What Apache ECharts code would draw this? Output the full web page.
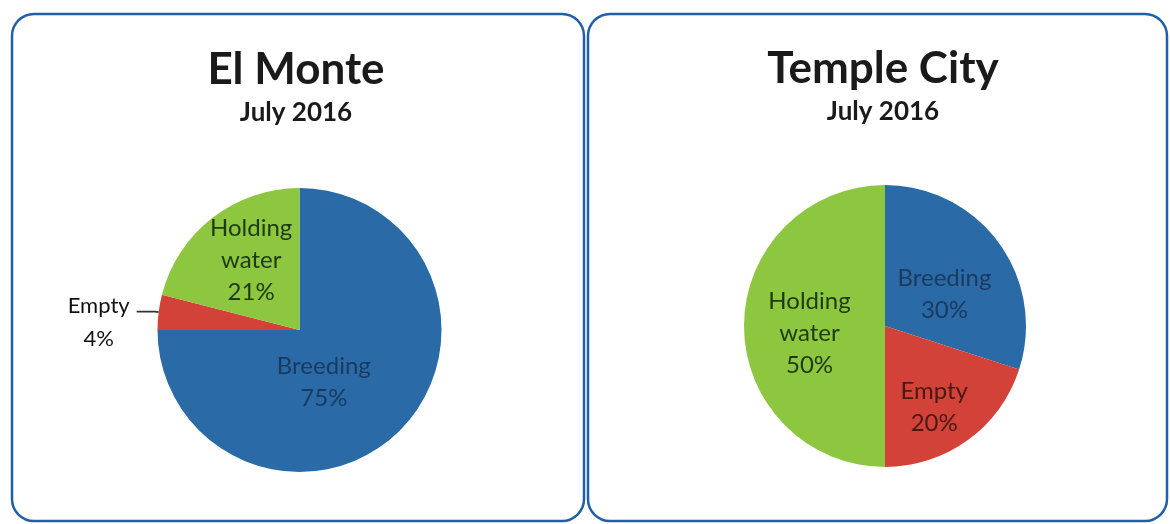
<!DOCTYPE html>
<html>
<head>
<meta charset="utf-8">
<script src="https://cdn.jsdelivr.net/npm/echarts@6/dist/echarts.min.js"></script>
<style>
  html, body { margin: 0; padding: 0; background: #fff; }
  #chart { width: 1170px; height: 524px; }
</style>
</head>
<body>
<div id="chart"></div>
<script>
// data
const categories = ['Breeding', 'Empty', 'Holding water'];
const elMonteValues = [75, 4, 21];
const templeCityValues = [30, 20, 50];
const panelTitles = ['El Monte', 'Temple City'];
const panelSubtitle = 'July 2016';

const sliceColors = ['#2a6aa6', '#d24238', '#8dc63f'];
const labelColors = ['#1b3a5e', '#4a1912', '#1f3a12'];
const FONT = 'Lato, "Open Sans", sans-serif';

// nudges so the inside labels sit where the original put them
const elMonteOffsets = [[-28, 0], [0, 0], [-3, -11]];
const templeOffsets = [[0, 11], [6, 22], [-2, 7]];

function insideLabel(i, offset) {
    return {
        show: true,
        position: 'inside',
        color: labelColors[i],
        fontFamily: FONT,
        fontSize: 24,
        lineHeight: 32,
        offset: offset,
        formatter: p => p.name.replace(' ', '\n') + '\n' + p.percent + '%'
    };
}

function buildData(values, offsets, outsideIdx) {
    return categories.map((name, i) => {
        const item = {
            name: name,
            value: values[i],
            itemStyle: { color: sliceColors[i] },
            label: insideLabel(i, offsets[i]),
            labelLine: { show: false }
        };
        if (i === outsideIdx) {
            item.label = {
                show: true,
                position: 'outside',
                padding: [22, 0, 0, 0],
                distanceToLabelLine: 5,
                formatter: p => '{a|' + p.name + '}\n{a|' + p.percent + '%}',
                rich: {
                    a: { width: 66, align: 'center', fontFamily: FONT, fontSize: 22, lineHeight: 33, color: '#111' }
                }
            };
            item.labelLine = { show: true, length: 4, length2: 18, lineStyle: { color: '#333', width: 1.8 } };
        }
        return item;
    });
}

const chart = echarts.init(document.getElementById('chart'));

const border = { stroke: '#2160a8', lineWidth: 2.5, fill: '#fff' };
const titleStyle = { fontFamily: FONT, fontWeight: 'bold', fontSize: 44, fill: '#1a1a1a', align: 'center', verticalAlign: 'middle' };
const subStyle = { fontFamily: FONT, fontWeight: 'bold', fontSize: 26, fill: '#1a1a1a', align: 'center', verticalAlign: 'middle' };

chart.setOption({
    animation: false,
    backgroundColor: '#fff',
    graphic: [
        { type: 'rect', z: -10, shape: { x: 12, y: 14, width: 572, height: 507, r: 22 }, style: border },
        { type: 'rect', z: -10, shape: { x: 588, y: 14, width: 579, height: 507, r: 22 }, style: border },
        { type: 'text', x: 296, y: 70, style: Object.assign({ text: panelTitles[0] }, titleStyle) },
        { type: 'text', x: 296, y: 113, style: Object.assign({ text: panelSubtitle }, subStyle) },
        { type: 'text', x: 883, y: 69, style: Object.assign({ text: panelTitles[1] }, titleStyle) },
        { type: 'text', x: 883, y: 112, style: Object.assign({ text: panelSubtitle }, subStyle) }
    ],
    series: [
        {
            type: 'pie',
            center: [299.5, 330],
            radius: 142,
            startAngle: 90,
            clockwise: true,
            silent: true,
            itemStyle: { borderWidth: 0 },
            data: buildData(elMonteValues, elMonteOffsets, 1)
        },
        {
            type: 'pie',
            center: [885, 326],
            radius: 141,
            startAngle: 90,
            clockwise: true,
            silent: true,
            itemStyle: { borderWidth: 0 },
            data: buildData(templeCityValues, templeOffsets, -1)
        }
    ]
});
</script>
</body>
</html>
